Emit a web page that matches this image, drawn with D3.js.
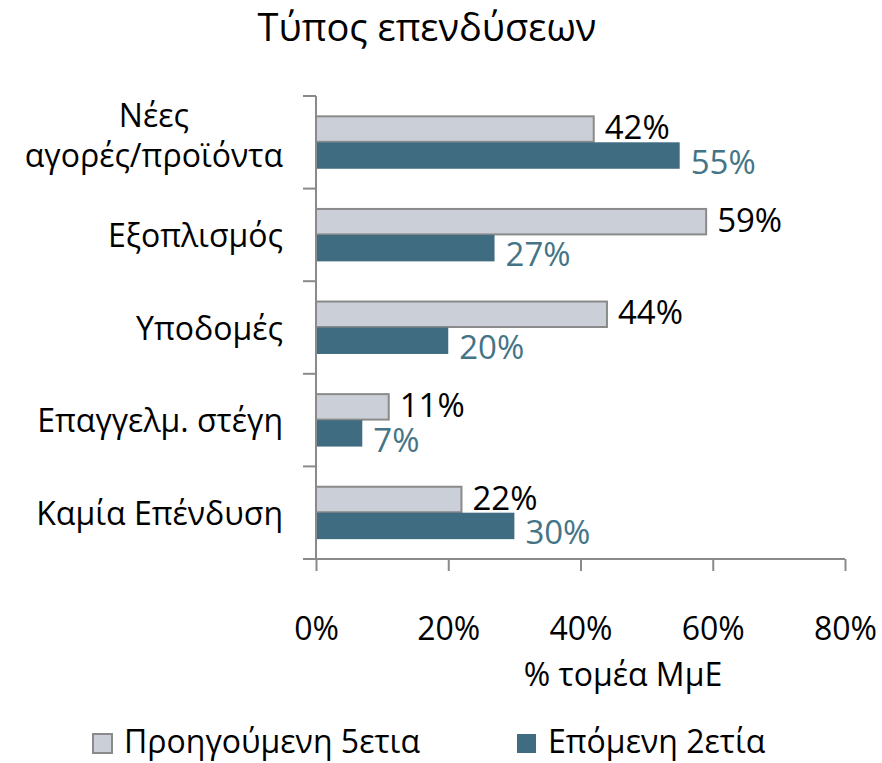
<!DOCTYPE html>
<html>
<head>
<meta charset="utf-8">
<script src="https://cdn.jsdelivr.net/npm/d3@7/dist/d3.min.js"></script>
<style>
  body { margin: 0; background: #fff; }
  svg text { font-family: "Open Sans", "Noto Sans", sans-serif; fill: #000; }
</style>
</head>
<body>
<div id="chart"></div>
<script>
'use strict';

// chart data
const title = 'Τύπος επενδύσεων';
const axisTitle = '% τομέα ΜμΕ';
const categories = ['Νέες\nαγορές/προϊόντα', 'Εξοπλισμός', 'Υποδομές', 'Επαγγελμ. στέγη', 'Καμία Επένδυση'];
const seriesNames = ['Προηγούμενη 5ετια', 'Επόμενη 2ετία'];
const prevFive = [42, 59, 44, 11, 22];
const nextTwo = [55, 27, 20, 7, 30];
const xTicks = [0, 20, 40, 60, 80];

const W = 882, H = 763;
const margin = { top: 96, right: 37, bottom: 204, left: 316 };
const width = W - margin.left - margin.right;
const height = H - margin.top - margin.bottom;

const colors = ['#cbd0d8', '#3f6c80'];
const labelColors = ['#000', '#447486'];
const axisColor = '#8a8a8a';

const svg = d3.select('#chart')
  .append('svg')
    .attr('width', W)
    .attr('height', H);

svg.append('text')
  .attr('x', 427)
  .attr('y', 41)
  .attr('text-anchor', 'middle')
  .style('font-size', '38px')
  .text(title);

const graph = svg.append('g')
  .attr('transform', `translate(${margin.left}, ${margin.top})`);

const x = d3.scaleLinear().domain([0, 80]).range([0, width]);
const y0 = d3.scaleBand().domain(categories).range([0, height]).padding(0);
const y1 = d3.scaleBand().domain(seriesNames).range([0, y0.bandwidth()])
  .paddingInner(0).paddingOuter(0.75);

const rows = categories.map((c, i) => ({
  category: c,
  values: [
    { series: seriesNames[0], value: prevFive[i], idx: 0 },
    { series: seriesNames[1], value: nextTwo[i], idx: 1 }
  ]
}));

// bars
const groups = graph.selectAll('.cat')
    .data(rows)
  .enter().append('g')
    .attr('class', 'cat')
    .attr('transform', d => `translate(0, ${y0(d.category)})`);

groups.selectAll('rect')
    .data(d => d.values)
  .enter().append('rect')
    .attr('x', x(0))
    .attr('y', d => y1(d.series) + (d.idx === 0 ? 0.5 : 0))
    .attr('width', d => x(d.value) - x(0))
    .attr('height', d => y1.bandwidth() - (d.idx === 0 ? 1 : 0))
    .style('fill', d => colors[d.idx])
    .style('stroke', d => d.idx === 0 ? axisColor : 'none')
    .style('stroke-width', 2);

// value labels
groups.selectAll('.val')
    .data(d => d.values)
  .enter().append('text')
    .attr('class', 'val')
    .attr('x', d => x(d.value) + 11)
    .attr('y', d => y1(d.series) + y1.bandwidth() + (d.idx === 0 ? -3 : 5))
    .style('font-size', '33px')
    .style('fill', d => labelColors[d.idx])
    .text(d => d.value + '%');

// x axis
const xAxis = d3.axisBottom(x)
  .tickValues(xTicks)
  .tickSize(12)
  .tickSizeOuter(0)
  .tickPadding(46)
  .tickFormat(d => d + '%');

const gx = graph.append('g')
  .attr('class', 'x-axis')
  .attr('transform', `translate(0, ${height})`)
  .call(xAxis);
gx.select('.domain').remove();
gx.selectAll('line').attr('stroke', axisColor).attr('stroke-width', 2);
gx.selectAll('text').style('font-size', '32px').style('font-family', '"Open Sans", sans-serif').attr('fill', '#000');

graph.append('line')
  .attr('x1', -13).attr('x2', width)
  .attr('y1', height).attr('y2', height)
  .attr('stroke', axisColor).attr('stroke-width', 2);

// y axis with ticks between the categories
graph.append('line')
  .attr('x1', 0).attr('x2', 0)
  .attr('y1', 0).attr('y2', height)
  .attr('stroke', axisColor).attr('stroke-width', 2);

graph.selectAll('.ytick')
    .data(categories.map(c => y0(c)))
  .enter().append('line')
    .attr('class', 'ytick')
    .attr('x1', -13).attr('x2', 0)
    .attr('y1', d => d).attr('y2', d => d)
    .attr('stroke', axisColor).attr('stroke-width', 2);

// category labels, block right aligned, lines centred
const catLabels = graph.selectAll('.catlabel')
    .data(categories)
  .enter().append('text')
    .attr('class', 'catlabel')
    .style('font-size', '32px')
    .attr('text-anchor', 'middle');

catLabels.each(function(d) {
  const lines = d.split('\n');
  const t = d3.select(this);
  const cy = y0(d) + y0.bandwidth() / 2;
  const lh = 40;
  lines.forEach((ln, i) => {
    t.append('tspan')
      .attr('y', cy + 12 + (i - (lines.length - 1) / 2) * lh - (lines.length > 1 ? 7 : 0))
      .text(ln);
  });
  let maxW = 0;
  t.selectAll('tspan').each(function() {
    maxW = Math.max(maxW, this.getComputedTextLength());
  });
  t.selectAll('tspan').attr('x', -33 - maxW / 2);
});

// axis title
svg.append('text')
  .attr('x', 623)
  .attr('y', 686)
  .attr('text-anchor', 'middle')
  .style('font-size', '32px')
  .text(axisTitle);

// legend
const legendX = [92, 516];
const legend = svg.selectAll('.legend')
    .data(seriesNames)
  .enter().append('g')
    .attr('class', 'legend')
    .attr('transform', (d, i) => `translate(${legendX[i]}, 733)`);

legend.append('rect')
  .attr('x', 1).attr('y', 1)
  .attr('width', 19).attr('height', 19)
  .style('fill', (d, i) => colors[i])
  .style('stroke', (d, i) => i === 0 ? axisColor : 'none')
  .style('stroke-width', 2);

legend.append('text')
  .attr('x', 32)
  .attr('y', 20)
  .style('font-size', '32px')
  .text(d => d);
</script>
</body>
</html>
